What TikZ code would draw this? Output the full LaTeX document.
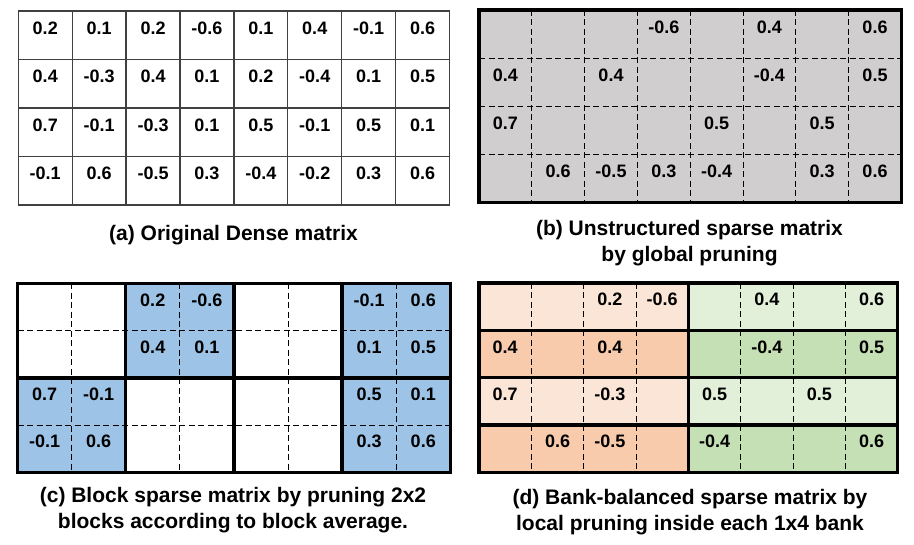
\documentclass[tikz,border=0pt]{standalone}
\usepackage{fontspec}
\setmainfont{Liberation Sans}
\usepackage{xcolor}
\usepackage{tikz}
\definecolor{Pruned}{RGB}{208,206,206}
\definecolor{Block}{RGB}{157,195,230}
\definecolor{BankA}{RGB}{251,229,214}
\definecolor{BankAd}{RGB}{248,203,173}
\definecolor{BankB}{RGB}{226,240,217}
\definecolor{BankBd}{RGB}{197,224,180}

\tikzset{
  val/.style={font=\fontsize{18}{20}\selectfont\bfseries, anchor=base, inner sep=0pt},
  subcap/.style={font=\fontsize{21}{26}\selectfont\bfseries, align=center, anchor=north, inner sep=0pt},
  thinline/.style={line width=1.3pt, black!75},
  dashline/.style={line width=1pt, dash pattern=on 6pt off 3.5pt},
  thickline/.style={line width=3.3pt},
}

\begin{document}
\begin{tikzpicture}[x=1pt, y=-1pt]
    \useasboundingbox (0,0) rectangle (914,545);

    % (a) dense matrix
    \begin{scope}[shift={(18.3,11)}, x=53.9pt, y=-48.5pt]
      \foreach \r/\row in {1/{0.2,0.1,0.2,-0.6,0.1,0.4,-0.1,0.6},
                           2/{0.4,-0.3,0.4,0.1,0.2,-0.4,0.1,0.5},
                           3/{0.7,-0.1,-0.3,0.1,0.5,-0.1,0.5,0.1},
                           4/{-0.1,0.6,-0.5,0.3,-0.4,-0.2,0.3,0.6}} {
        \foreach \v [count=\c] in \row {
          \node[val] (a-\r-\c) at (\c-0.5,\r-0.52) {\v};
        }
      }
      \foreach \c in {0,...,8} \draw[thinline] (\c,0) -- (\c,4);
      \foreach \r in {0,...,4} \draw[thinline] (0,\r) -- (8,\r);
    \end{scope}
    \node[subcap] (capA) at (233.5,224.7) {(a) Original Dense matrix};

    % (b) unstructured sparse
    \begin{scope}[shift={(479,10)}, x=52.8pt, y=-48.2pt]
      \fill[Pruned] (0,0) rectangle (8,4);
      \foreach \c in {1,...,7} \draw[dashline] (\c,0) -- (\c,4);
      \foreach \r in {1,2,3} \draw[dashline] (0,\r) -- (8,\r);
      \draw[thickline] (0,0) rectangle (8,4);
      \foreach \r/\c/\v in {1/4/-0.6,1/6/0.4,1/8/0.6,
                            2/1/0.4,2/3/0.4,2/6/-0.4,2/8/0.5,
                            3/1/0.7,3/5/0.5,3/7/0.5,
                            4/2/0.6,4/3/-0.5,4/4/0.3,4/5/-0.4,4/7/0.3,4/8/0.6} {
        \node[val] (b-\r-\c) at (\c-0.5,\r-0.52) {\v};
      }
    \end{scope}
    \node[subcap] (capB) at (689.5,220) {(b) Unstructured sparse matrix\\by global pruning};

    % (c) block sparse
    \begin{scope}[shift={(17.5,283.3)}, x=54.1pt, y=-47.3pt]
      \foreach \x/\y in {2/0,6/0,0/2,6/2}
        \fill[Block] (\x,\y) rectangle ++(2,2);
      \foreach \c in {1,3,5,7} \draw[dashline] (\c,0) -- (\c,4);
      \foreach \r in {1,3} \draw[dashline] (0,\r) -- (8,\r);
      \foreach \c in {2,4,6} \draw[thickline] (\c,0) -- (\c,4);
      \draw[thickline] (0,2) -- (8,2);
      \draw[thickline] (0,0) rectangle (8,4);
      \foreach \r/\c/\v in {1/3/0.2,1/4/-0.6,2/3/0.4,2/4/0.1,
                            1/7/-0.1,1/8/0.6,2/7/0.1,2/8/0.5,
                            3/1/0.7,3/2/-0.1,4/1/-0.1,4/2/0.6,
                            3/7/0.5,3/8/0.1,4/7/0.3,4/8/0.6} {
        \node[val] (c-\r-\c) at (\c-0.5,\r-0.52) {\v};
      }
    \end{scope}
    \node[subcap] (capC) at (233,487) {(c) Block sparse matrix by pruning 2x2\\blocks according to block average.};

    % (d) bank-balanced sparse
    \begin{scope}[shift={(479,283)}, x=52.35pt, y=-47.3pt]
      \foreach \r/\ca/\cb in {0/BankA/BankB,1/BankAd/BankBd,2/BankA/BankB,3/BankAd/BankBd} {
        \fill[\ca] (0,\r) rectangle (4,\r+1);
        \fill[\cb] (4,\r) rectangle (8,\r+1);
      }
      \foreach \c in {1,2,3,5,6,7} \draw[dashline] (\c,0) -- (\c,4);
      \foreach \r in {1,2,3} \draw[thickline] (0,\r) -- (8,\r);
      \draw[thickline] (4,0) -- (4,4);
      \draw[thickline] (0,0) rectangle (8,4);
      \foreach \r/\c/\v in {1/3/0.2,1/4/-0.6,1/6/0.4,1/8/0.6,
                            2/1/0.4,2/3/0.4,2/6/-0.4,2/8/0.5,
                            3/1/0.7,3/3/-0.3,3/5/0.5,3/7/0.5,
                            4/2/0.6,4/3/-0.5,4/5/-0.4,4/8/0.6} {
        \node[val] (d-\r-\c) at (\c-0.5,\r-0.52) {\v};
      }
    \end{scope}
    \node[subcap] (capD) at (690,489) {(d) Bank-balanced sparse matrix by\\local pruning inside each 1x4 bank};
  \end{tikzpicture}
\end{document}
